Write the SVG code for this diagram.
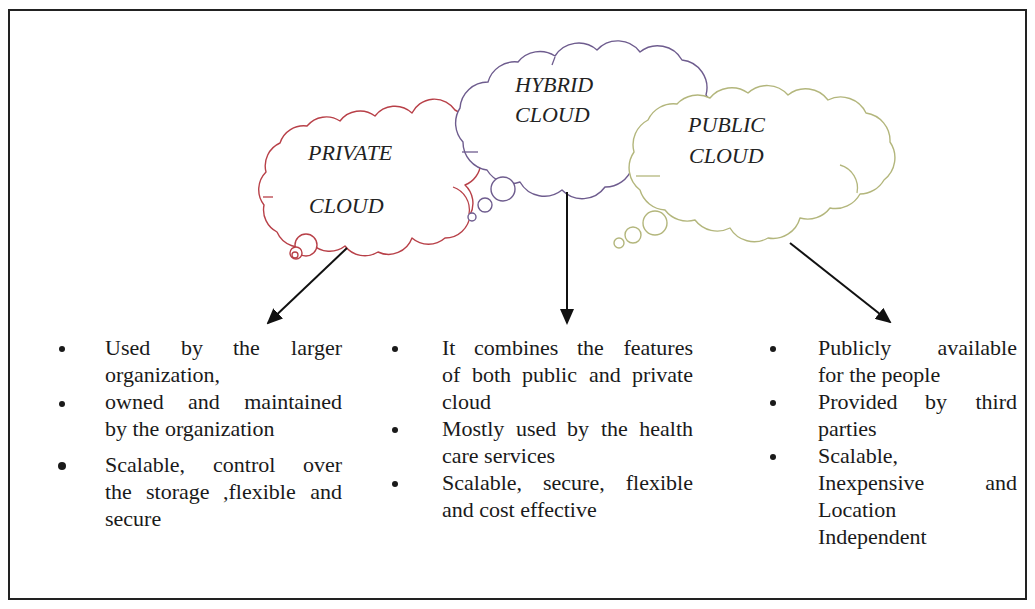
<svg xmlns="http://www.w3.org/2000/svg" width="1035" height="609" viewBox="0 0 1035 609">
  <style>
    .frame { fill: #ffffff; stroke: #222222; stroke-width: 2; }
    .cloud { fill: #ffffff; stroke-width: 1.4; stroke-linejoin: round; }
    .crease { fill: none; stroke-width: 1.3; }
    .private { stroke: #b84048; }
    .hybrid { stroke: #6e5c8e; }
    .public { stroke: #b3b67c; }
    .title { font-family: "Liberation Serif", "Times New Roman", Times, "DejaVu Serif", serif; font-style: italic; font-size: 22px; fill: #222222; }
    .body { font-family: "Liberation Serif", "Times New Roman", Times, "DejaVu Serif", serif; font-size: 22px; fill: #1a1a1a; }
    .end { text-anchor: end; }
    .bullet { fill: #1a1a1a; }
    .conn { stroke: #111111; stroke-width: 2; fill: none; }
  </style>
  <defs>
    <marker id="arrowhead" markerWidth="16" markerHeight="14" refX="14" refY="7" orient="auto" markerUnits="userSpaceOnUse">
      <path d="M0,0 L16,7 L0,14 Z" fill="#111111"/>
    </marker>
  </defs>

  <!-- outer frame -->
  <rect class="frame" x="9" y="10" width="1017" height="589"/>

  <!-- private cloud -->
  <g id="private-cloud">
    <path class="cloud private" d="M277,232 A25,25 0 0 1 264,205 A25,25 0 0 1 266,172 A25,25 0 0 1 280,143 A25,25 0 0 1 307,126 A25,25 0 0 1 340,121 A25,25 0 0 1 375,116 A25,25 0 0 1 412,113 A25,25 0 0 1 455,110 A25,25 0 0 1 468,140 A25,25 0 0 1 465,185 A25,25 0 0 1 470,215 A25,25 0 0 1 445,238 A25,25 0 0 1 412,238 A25,25 0 0 1 378,252 A25,25 0 0 1 345,246 A25,25 0 0 1 312,244 A25,25 0 0 1 277,232 Z"/>
    <path class="crease private" d="M453,187 A24,24 0 0 1 469,214"/>
    <path class="crease private" d="M263,197 L273,197"/>
    <circle class="cloud private" cx="306" cy="245" r="11"/>
    <circle class="cloud private" cx="296" cy="253" r="6"/>
    <circle class="crease private" cx="295" cy="255" r="3"/>
    <text class="title" x="308" y="160">PRIVATE</text>
    <text class="title" x="309" y="213">CLOUD</text>
  </g>

  <!-- hybrid cloud -->
  <g id="hybrid-cloud">
    <path class="cloud hybrid" d="M463,142 A28,28 0 0 1 460,108 A28,28 0 0 1 488,82 A28,28 0 0 1 518,62 A28,28 0 0 1 555,56 A28,28 0 0 1 597,50 A28,28 0 0 1 640,52 A28,28 0 0 1 682,60 A28,28 0 0 1 706,95 A28,28 0 0 1 705,130 A28,28 0 0 1 665,160 A28,28 0 0 1 632,168 A28,28 0 0 1 605,187 A28,28 0 0 1 562,190 A28,28 0 0 1 520,182 A28,28 0 0 1 487,170 A28,28 0 0 1 463,142 Z"/>
    <path class="crease hybrid" d="M462,152 L478,152"/>
    <path class="crease hybrid" d="M555,57 L552,65"/>
    <circle class="cloud hybrid" cx="503" cy="189" r="12"/>
    <circle class="cloud hybrid" cx="485" cy="205" r="7"/>
    <circle class="cloud hybrid" cx="472" cy="217" r="4"/>
    <text class="title" x="515" y="92">HYBRID</text>
    <text class="title" x="515" y="122">CLOUD</text>
  </g>

  <!-- public cloud -->
  <g id="public-cloud">
    <path class="cloud public" d="M640,190 A28,28 0 0 1 634,152 A28,28 0 0 1 648,120 A28,28 0 0 1 677,104 A28,28 0 0 1 710,98 A28,28 0 0 1 748,93 A28,28 0 0 1 788,95 A28,28 0 0 1 828,100 A28,28 0 0 1 866,113 A28,28 0 0 1 890,142 A28,28 0 0 1 884,180 A28,28 0 0 1 860,194 A28,28 0 0 1 830,208 A28,28 0 0 1 800,218 A28,28 0 0 1 768,238 A28,28 0 0 1 730,228 A28,28 0 0 1 695,220 A28,28 0 0 1 665,210 A28,28 0 0 1 640,190 Z"/>
    <path class="crease public" d="M840,165 A24,24 0 0 1 857,193"/>
    <path class="crease public" d="M636,176 L660,176"/>
    <circle class="cloud public" cx="655" cy="223" r="12"/>
    <circle class="cloud public" cx="633" cy="235" r="8"/>
    <circle class="cloud public" cx="619" cy="243" r="5"/>
    <text class="title" x="688" y="132">PUBLIC</text>
    <text class="title" x="689" y="163">CLOUD</text>
  </g>

  <!-- connectors -->
  <g id="connectors">
    <line class="conn" x1="347" y1="248" x2="268" y2="323" marker-end="url(#arrowhead)"/>
    <line class="conn" x1="567" y1="192" x2="567" y2="323" marker-end="url(#arrowhead)"/>
    <line class="conn" x1="790" y1="243" x2="890" y2="322" marker-end="url(#arrowhead)"/>
  </g>

  <!-- private cloud notes: justified lines place each word -->
  <g id="private-notes">
    <circle class="bullet" cx="62" cy="349" r="3"/>
    <circle class="bullet" cx="62" cy="404" r="3"/>
    <circle class="bullet" cx="62" cy="466" r="4"/>
    <text class="body" y="355"><tspan x="105">Used</tspan><tspan x="181">by</tspan><tspan x="233">the</tspan></text>
    <text class="body end" x="342" y="355">larger</text>
    <text class="body" x="105" y="382">organization,</text>
    <text class="body" y="409"><tspan x="105">owned</tspan><tspan x="188">and</tspan></text>
    <text class="body end" x="342" y="409">maintained</text>
    <text class="body" x="105" y="436">by the organization</text>
    <text class="body" y="472"><tspan x="105">Scalable,</tspan><tspan x="213">control</tspan></text>
    <text class="body end" x="342" y="472">over</text>
    <text class="body" y="499"><tspan x="105">the</tspan><tspan x="146">storage</tspan><tspan x="223">,flexible</tspan></text>
    <text class="body end" x="342" y="499">and</text>
    <text class="body" x="105" y="526">secure</text>
  </g>

  <!-- hybrid cloud notes -->
  <g id="hybrid-notes">
    <circle class="bullet" cx="395" cy="349" r="3"/>
    <circle class="bullet" cx="395" cy="430" r="3"/>
    <circle class="bullet" cx="395" cy="484" r="3"/>
    <text class="body" y="355"><tspan x="442">It</tspan><tspan x="474">combines</tspan><tspan x="577">the</tspan></text>
    <text class="body end" x="693" y="355">features</text>
    <text class="body" y="382"><tspan x="442">of</tspan><tspan x="472">both</tspan><tspan x="522">public</tspan><tspan x="589">and</tspan></text>
    <text class="body end" x="693" y="382">private</text>
    <text class="body" x="442" y="409">cloud</text>
    <text class="body" y="436"><tspan x="442">Mostly</tspan><tspan x="516">used</tspan><tspan x="567">by</tspan><tspan x="601">the</tspan></text>
    <text class="body end" x="693" y="436">health</text>
    <text class="body" x="442" y="463">care services</text>
    <text class="body" y="490"><tspan x="442">Scalable,</tspan><tspan x="543">secure,</tspan></text>
    <text class="body end" x="693" y="490">flexible</text>
    <text class="body" x="442" y="517">and cost effective</text>
  </g>

  <!-- public cloud notes -->
  <g id="public-notes">
    <circle class="bullet" cx="773" cy="349" r="3"/>
    <circle class="bullet" cx="773" cy="403" r="3"/>
    <circle class="bullet" cx="773" cy="457" r="3"/>
    <text class="body" x="818" y="355">Publicly</text>
    <text class="body end" x="1017" y="355">available</text>
    <text class="body" x="818" y="382">for the people</text>
    <text class="body" y="409"><tspan x="818">Provided</tspan><tspan x="925">by</tspan></text>
    <text class="body end" x="1017" y="409">third</text>
    <text class="body" x="818" y="436">parties</text>
    <text class="body" x="818" y="463">Scalable,</text>
    <text class="body" x="818" y="490">Inexpensive</text>
    <text class="body end" x="1017" y="490">and</text>
    <text class="body" x="818" y="517">Location</text>
    <text class="body" x="818" y="544">Independent</text>
  </g>
</svg>
